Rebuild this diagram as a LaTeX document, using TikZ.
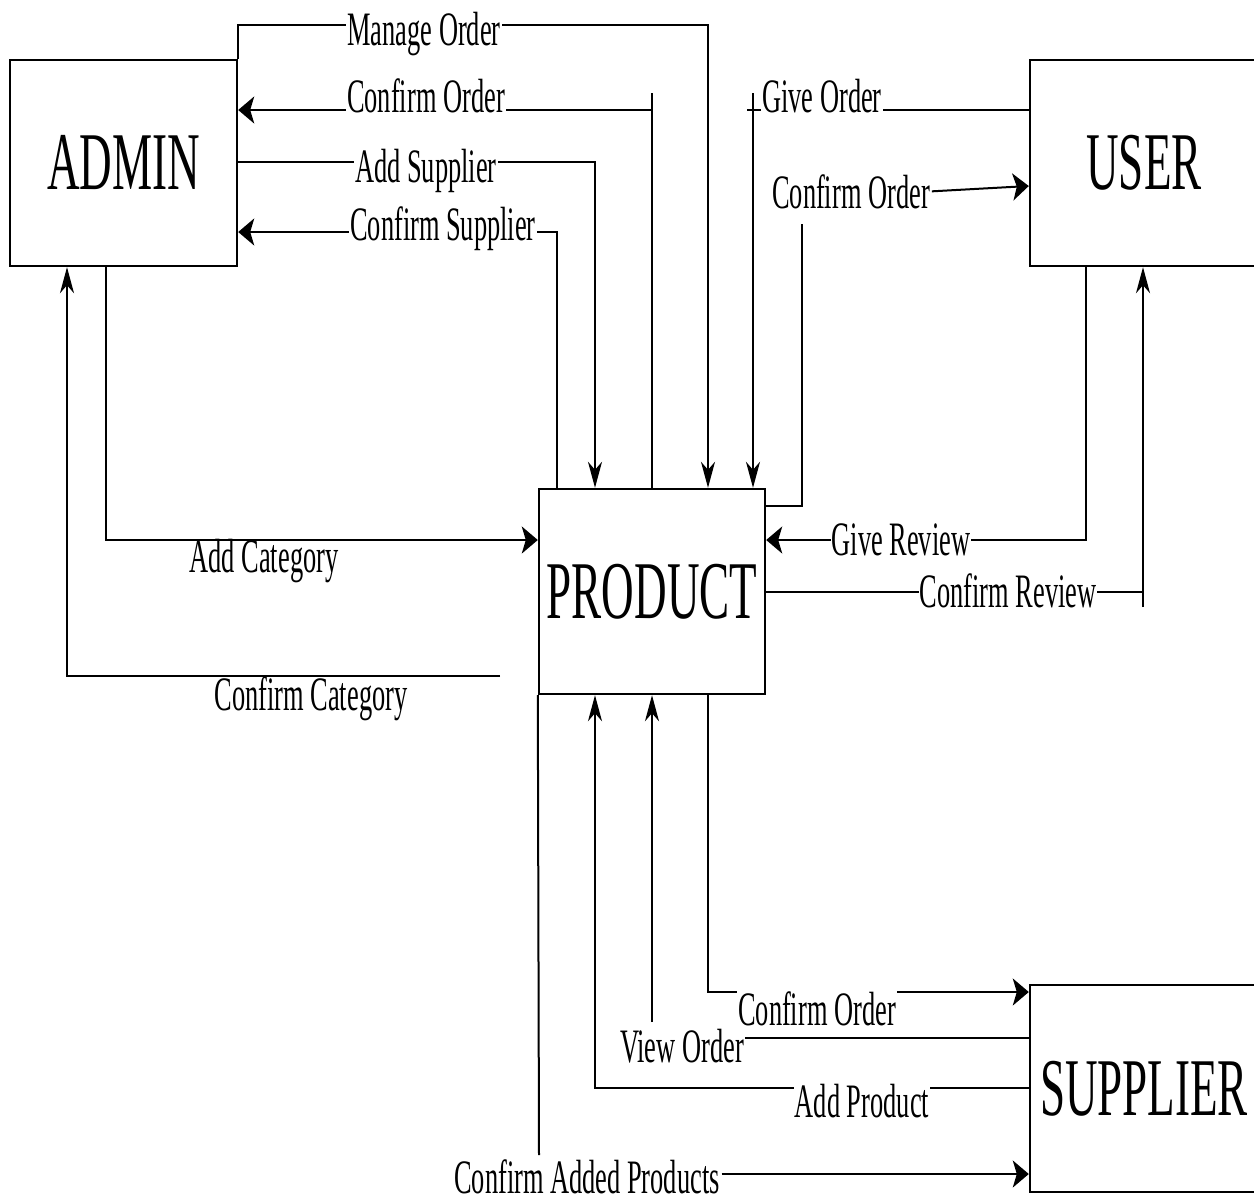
\documentclass[tikz,border=0pt]{standalone}
\usepackage{fontspec}
\setmainfont[FakeStretch=0.55]{Liberation Serif}
\usetikzlibrary{arrows.meta}

\begin{document}
\begin{tikzpicture}[x=1pt,y=-1pt,line width=2pt,
  entity/.style={draw,line width=2.4pt,minimum width=227pt,minimum height=206pt,
    inner sep=0pt,font=\fontsize{82}{90}\selectfont},
  lbl/.style={font=\fontsize{48}{52}\selectfont,inner sep=1pt,anchor=base},
  cut/.style={lbl,fill=white},
  harr/.style={-{Stealth[length=16pt,width=27pt,inset=4pt]}},
  varr/.style={-{Stealth[length=26pt,width=14pt,inset=8pt]}}]
\useasboundingbox (0,0) rectangle (1254,1203);

% entities
\node[entity] (admin) at (123.5,163) {ADMIN};
\node[entity,minimum width=228pt] (user) at (1144,163) {USER};
\node[entity,minimum width=226pt,minimum height=205pt] (prod) at (652,591.5) {PRODUCT};
\node[entity,minimum width=228pt,minimum height=207pt] (sup) at (1144,1088.5) {SUPPLIER};

% free ends of the broken flows
\coordinate (co-top) at (652,93);
\coordinate (go-top) at (753,93);
\coordinate (go-end) at (747,110);
\coordinate (cu-top) at (802,224);
\coordinate (cr-end) at (1143,607);
\coordinate (cc-end) at (500,676);
\coordinate (vo-bot) at (652,1022);
\coordinate (vo-end) at (745,1038);
\coordinate (ca-bot) at (539,1155);

% admin <-> product
\draw[varr] (admin.north east) |- (708,25) -- (prod.north -| 708,0);
\draw (prod.north -| 652,0) -- (co-top);
\draw[harr] (652,110) -- (admin.east |- 0,110);
\draw[varr] (admin.east |- 0,162) -| (prod.north -| 595,0);
\draw[harr] (prod.north -| 557,0) |- (admin.east |- 0,232);
\draw[harr] (admin.south -| 106,0) |- (prod.west |- 0,540);
\draw[varr] (cc-end) -| (admin.south -| 67,0);

% user <-> product
\draw (user.west |- 0,110) -- (go-end);
\draw[varr] (go-top) -- (prod.north -| 753,0);
\draw (prod.east |- 0,506) -| (cu-top);
\draw[harr] (user.south -| 1086,0) |- (prod.east |- 0,540);
\draw (prod.east |- 0,592) -- (1143,592);
\draw[varr] (cr-end) -- (user.south -| 1143,0);

% supplier <-> product
\draw[harr] (prod.south -| 708,0) |- (sup.west |- 0,992);
\draw[varr] (vo-bot) -- (prod.south -| 652,0);
\draw (sup.west |- 0,1038) -- (vo-end);
\draw[varr] (sup.west |- 0,1088) -| (prod.south -| 595,0);
\draw (prod.south west) -- (ca-bot);

% flow labels
\node[cut] (l-mo) at (424,45) {Manage Order};
\node[cut] (l-coa) at (426,112) {Confirm Order};
\node[cut] (l-as) at (426,182) {Add Supplier};
\node[cut] (l-cs) at (443,240) {Confirm Supplier};
\node[cut] (l-go) at (822,112) {Give Order};
\node[lbl] (l-cou) at (851,208) {Confirm Order};
\node[cut] (l-gr) at (901,555) {Give Review};
\node[cut] (l-cr) at (1008,607) {Confirm Review};
\node[lbl] (l-ac) at (264,572) {Add Category};
\node[lbl] (l-cc) at (311,710) {Confirm Category};
\node[cut,inner ysep=4pt] (l-cos) at (817,1025) {Confirm Order};
\node[lbl] (l-vo) at (682,1062) {View Order};
\node[cut] (l-ap) at (862,1117) {Add Product};
\node[lbl] (l-cap) at (587,1193) {Confirm Added Products};

% arrows leaving labels
\draw[harr] (l-cou.east) -- (user.west |- 0,186);
\draw[harr] (l-cap.east |- 0,1174) -- (sup.west |- 0,1174);
\end{tikzpicture}
\end{document}
